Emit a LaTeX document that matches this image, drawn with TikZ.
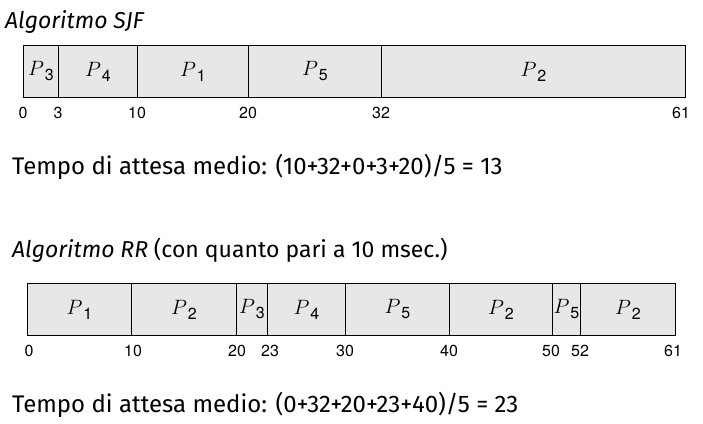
\documentclass[tikz,border=0pt]{standalone}
\usepackage{fontspec}
\setmainfont{Fira Sans}
\newfontfamily\heros{TeX Gyre Heros}
\usetikzlibrary{positioning}
\definecolor{segfill}{HTML}{E6E7E8}
\newcommand\pl[1]{{\fontsize{21}{21}\selectfont$P$}\kern1pt\raisebox{-5pt}{\fontsize{16}{16}\heros #1}}
\newcommand\segbox[5]{%
  \pgfmathsetmacro\segw{#3-#2}%
  \node[seg,minimum width=\segw pt] (#1) at (#2,#4) {\pl{#5}};}
\begin{document}
\begin{tikzpicture}[x=1pt,y=-1pt,
  seg/.style={draw=black,line width=0.9pt,fill=segfill,anchor=north west,inner sep=0pt,minimum height=52pt},
  num/.style={font=\heros\fontsize{16}{16}\selectfont,inner sep=0pt,anchor=base},
  title/.style={font=\fontsize{23}{23}\selectfont\itshape,inner sep=0pt,anchor=base west},
  body/.style={font=\fontsize{24}{24}\selectfont,inner sep=0pt,anchor=base west}]
\useasboundingbox (0,0) rectangle (703,423);
% SJF
\node[title] (t1) at (5,28) {Algoritmo SJF};
\segbox{a1}{23}{58}{45}{3}
\segbox{a2}{58}{137}{45}{4}
\segbox{a3}{137}{248}{45}{1}
\segbox{a4}{248}{381}{45}{5}
\segbox{a5}{381}{685}{45}{2}
\foreach \x/\t in {23/0,58/3,137/10,248/20,381/32,681/61}
  \node[num] (n1-\t) at (\x,118) {\t};
\node[body] (w1) at (12,174) {Tempo di attesa medio: (10+32+0+3+20)/5 = 13};
% RR
\node[title] (t2) at (12,257) {Algoritmo RR \upshape(con quanto pari a 10 msec.)};
\segbox{b1}{27}{131}{283}{1}
\segbox{b2}{131}{236}{283}{2}
\segbox{b3}{236}{267}{283}{3}
\segbox{b4}{267}{345}{283}{4}
\segbox{b5}{345}{449}{283}{5}
\segbox{b6}{449}{552}{283}{2}
\segbox{b7}{552}{580}{283}{5}
\segbox{b8}{580}{675}{283}{2}
\foreach \x/\t/\k in {29/0/a,133/10/b,237/20/c,270/23/d,345/30/e,449/40/f,551/50/g,580/52/h,673/61/i}
  \node[num] (n2-\k) at (\x,356) {\t};
\node[body] (w2) at (12,412) {Tempo di attesa medio: (0+32+20+23+40)/5 = 23};
\end{tikzpicture}
\end{document}
